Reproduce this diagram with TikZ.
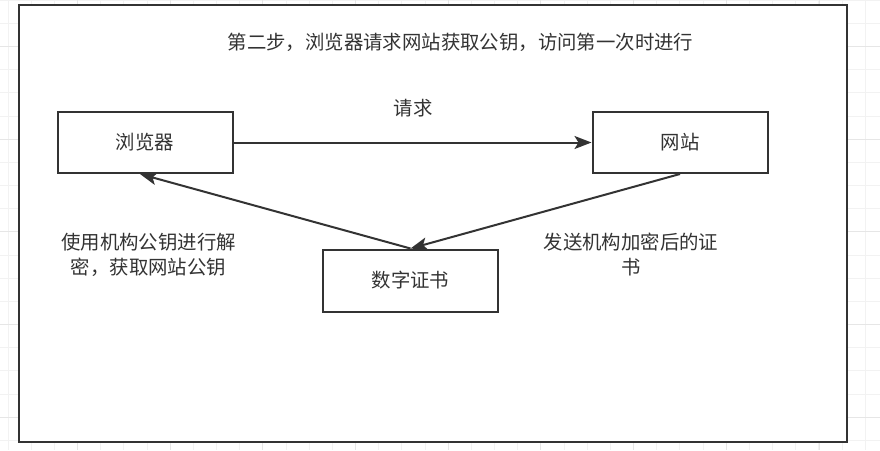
\documentclass[tikz,border=0pt]{standalone}
\usepackage{fontspec}
\newfontfamily\cjk{Noto Sans CJK SC}
\usetikzlibrary{arrows.meta}
\definecolor{lineC}{HTML}{333333}
\definecolor{textC}{HTML}{333333}
\definecolor{gridMinor}{HTML}{F2F2F2}
\definecolor{gridMajor}{HTML}{E6E6E6}
\tikzset{
  box/.style={draw=lineC, line width=2pt, fill=white, minimum width=175pt, minimum height=61pt, inner sep=0pt, text=textC, font=\cjk\fontsize{19.4}{25}\selectfont},
  lbl/.style={text=textC, inner sep=0pt, align=center, font=\cjk\fontsize{19.4}{25}\selectfont},
  arr/.style={draw=lineC, line width=2pt, -{Stealth[length=17pt,width=13pt,inset=4pt]}},
  gminor/.style={draw=gridMinor, line width=1pt},
  gmajor/.style={draw=gridMajor, line width=1pt}
}
\begin{document}
\begin{tikzpicture}[x=1pt,y=-1pt]
\useasboundingbox (0,0) rectangle (880,450);
\fill[white] (0,0) rectangle (880,450);
% grid
\foreach \i in {0,...,37} \draw[gminor] ({8+23.17*\i},0) -- ++(0,450);
\foreach \i in {0,...,19} \draw[gminor] (0,{0.2+23.17*\i}) -- ++(880,0);
\foreach \i in {0,...,8} \draw[gmajor] ({77.4+92.7*\i},0) -- ++(0,450);
\foreach \i in {0,...,4} \draw[gmajor] (0,{46.5+92.7*\i}) -- ++(880,0);
% frame
\draw[draw=lineC, line width=2pt, fill=white] (18.5,5) rectangle (847,441.5);
% title
\node[lbl] (title) at (460.5,42) {第二步，浏览器请求网站获取公钥，访问第一次时进行};
% boxes
\node[box] (b) at (145,142.5) {浏览器};
\node[box] (w) at (680,142.5) {网站};
\node[box, minimum height=62pt] (c) at (410.5,280.5) {数字证书};
% arrows
\draw[arr] (b.east) -- (w.west);
\draw[arr] (w.south) -- (c.north);
\draw[arr] (c.north) -- ([xshift=-5pt]b.south);
% labels
\node[lbl] (req) at (413,108) {请求};
\node[lbl] (l1) at (148.5,254.5) {使用机构公钥进行解\\密，获取网站公钥};
\node[lbl] (l2) at (631,254.5) {发送机构加密后的证\\书};
\end{tikzpicture}
\end{document}
